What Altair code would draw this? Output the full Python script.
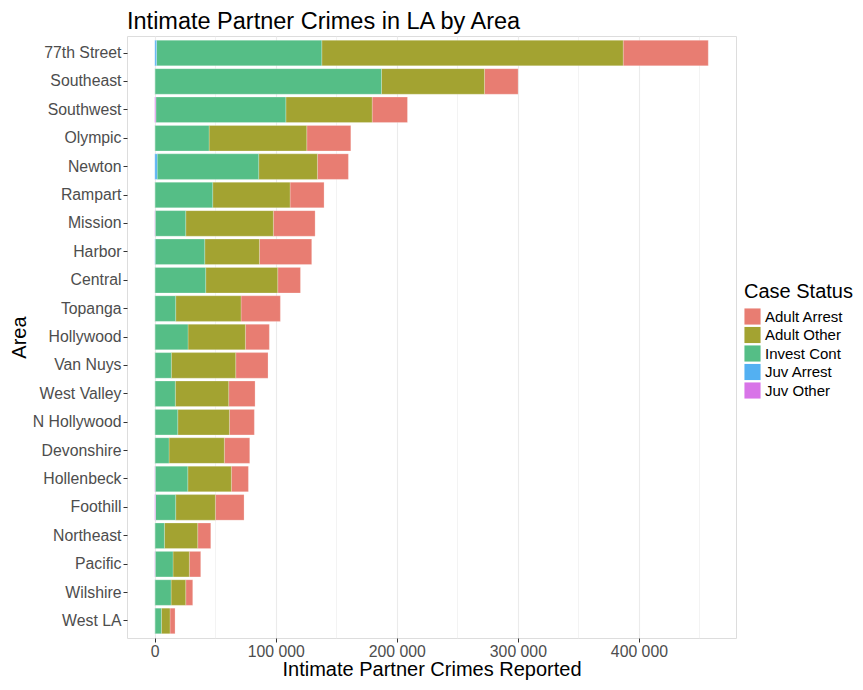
import altair as alt
import pandas as pd

areas = ["77th Street", "Southeast", "Southwest", "Olympic", "Newton", "Rampart",
         "Mission", "Harbor", "Central", "Topanga", "Hollywood", "Van Nuys",
         "West Valley", "N Hollywood", "Devonshire", "Hollenbeck", "Foothill",
         "Northeast", "Pacific", "Wilshire", "West LA"]

statuses = ["Adult Arrest", "Adult Other", "Invest Cont", "Juv Arrest", "Juv Other"]
colors = ["#E87D72", "#A3A331", "#55BE86", "#53B0F2", "#D874E8"]

juv_other = [0, 0, 800, 0, 0, 0, 300, 0, 0, 0, 0, 0, 0, 0, 0, 300, 600, 0, 300, 0, 0]
juv_arrest = [1500, 0, 0, 0, 2000, 0, 0, 300, 0, 0, 0, 0, 0, 0, 0, 0, 0, 0, 0, 0, 0]
invest_cont = [136500, 187300, 107500, 44900, 83900, 47900, 25300, 41000, 42100, 17300,
               27500, 13700, 17000, 19000, 11800, 27000, 16700, 8000, 14800, 13500, 5500]
adult_other = [249000, 85100, 71300, 80700, 48500, 63900, 72400, 45200, 59500, 54000,
               47400, 53200, 44100, 42700, 45700, 36000, 32800, 27500, 13500, 12100, 7100]
adult_arrest = [70300, 27800, 29200, 36400, 25600, 28100, 34500, 43200, 18800, 32500,
                19800, 26700, 21800, 20600, 21000, 14100, 23700, 10800, 9400, 5800, 4200]

series = {
    "Adult Arrest": adult_arrest,
    "Adult Other": adult_other,
    "Invest Cont": invest_cont,
    "Juv Arrest": juv_arrest,
    "Juv Other": juv_other,
}
stack_rank = {"Juv Other": 0, "Juv Arrest": 1, "Invest Cont": 2, "Adult Other": 3, "Adult Arrest": 4}

rows = []
for s, vals in series.items():
    for a, v in zip(areas, vals):
        rows.append({"Area": a, "Status": s, "Count": v, "rank": stack_rank[s]})
df = pd.DataFrame(rows)

x_ticks = [0, 50000, 100000, 150000, 200000, 250000, 300000, 350000, 400000, 450000]

font = "Liberation Sans"

chart = alt.Chart(df).mark_bar(stroke="white", strokeWidth=0.4, strokeOpacity=0.6).encode(
    x=alt.X("Count:Q", stack="zero",
            scale=alt.Scale(domain=[-22900, 480200], nice=False, zero=False),
            axis=alt.Axis(title="Intimate Partner Crimes Reported", values=x_ticks,
                          labelExpr="datum.value % 100000 == 0 ? replace(format(datum.value, ','), ',', ' ') : ''",
                          tickOpacity={"condition": {"test": "datum.value % 100000 != 0", "value": 0}, "value": 1},
                          gridWidth={"condition": {"test": "datum.value % 100000 != 0", "value": 0.6}, "value": 1.1},
                          gridColor="#EBEBEB", domain=False, tickColor="#333333", tickSize=4,
                          labelFontSize=15.8, labelColor="#4D4D4D", labelFont=font, labelPadding=2,
                          titleFontSize=20, titleFont=font, titleColor="#000000", titleFontWeight="normal",
                          titlePadding=1)),
    y=alt.Y("Area:N", sort=areas,
            scale=alt.Scale(paddingInner=0.1, paddingOuter=0.15),
            axis=alt.Axis(title="Area", bandPosition=0.5, gridColor="#EBEBEB", gridWidth=1.1,
                          domain=False, tickColor="#333333", tickSize=4,
                          labelFontSize=15.8, labelColor="#4D4D4D", labelFont=font, labelPadding=2,
                          titleFontSize=20, titleFont=font, titleColor="#000000", titleFontWeight="normal",
                          titlePadding=3)),
    color=alt.Color("Status:N", scale=alt.Scale(domain=statuses, range=colors),
                    legend=alt.Legend(title="Case Status", orient="none", legendX=617, legendY=246,
                                      symbolType="square", symbolSize=260, symbolStrokeWidth=0,
                                      symbolOpacity=1, rowPadding=1.5,
                                      labelFontSize=15, labelFont=font, labelColor="#000000",
                                      titleFontSize=20, titleFont=font, titleFontWeight="normal",
                                      titleColor="#000000", titlePadding=6)),
    order=alt.Order("rank:Q", sort="ascending"),
).properties(
    width=609,
    height=602,
    title=alt.Title("Intimate Partner Crimes in LA by Area", anchor="start", frame="group",
                    fontSize=23.5, font=font, fontWeight="normal", color="#000000", offset=3),
    autosize=alt.AutoSizeParams(type="none"),
    padding={"left": 119, "top": 28, "right": 119, "bottom": 44},
).configure_view(
    stroke="#9E9E9E", strokeWidth=1
).configure(background="white")

chart.save("out.html", embed_options={"renderer": "svg", "actions": False})
